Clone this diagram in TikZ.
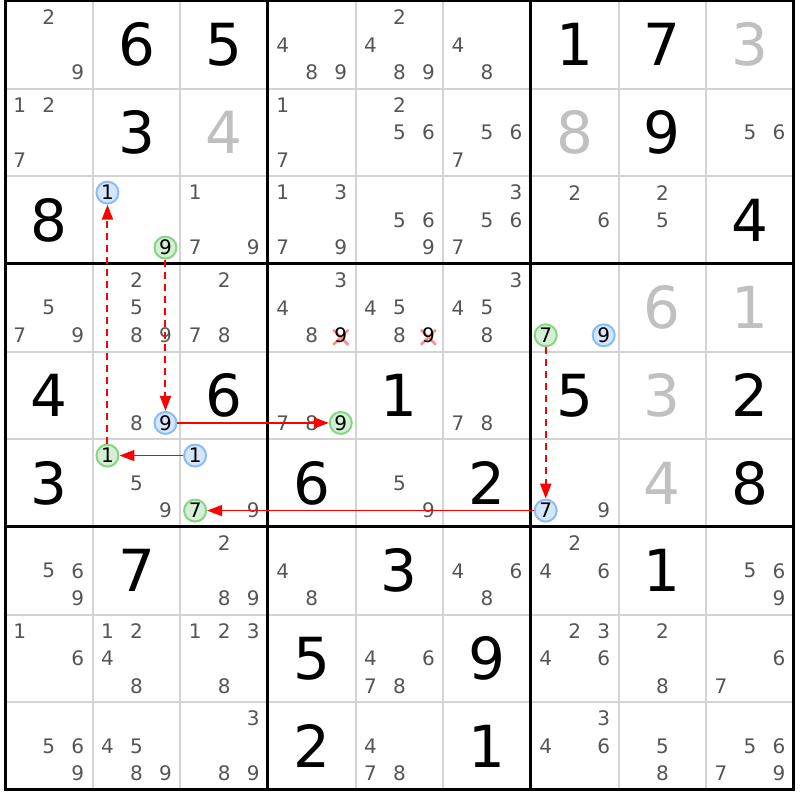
\documentclass[tikz,border=0pt]{standalone}
\usepackage{fontspec}
\setmainfont{DejaVu Sans}
\usetikzlibrary{arrows.meta}
\definecolor{pmgray}{RGB}{85,85,85}
\definecolor{givgray}{RGB}{192,192,192}
\definecolor{thingrid}{RGB}{211,211,211}
\definecolor{bluefill}{RGB}{212,230,252}
\definecolor{bluedraw}{RGB}{140,188,245}
\definecolor{greenfill}{RGB}{212,240,212}
\definecolor{greendraw}{RGB}{135,212,135}
\definecolor{crossred}{RGB}{255,140,140}
\definecolor{linkred}{RGB}{255,0,0}
\newcommand\pmpos[3]{%
  \pgfmathsetmacro\px{5+(#2-0.5)*87.65+(mod(#3-1,3)-1)*29}%
  \pgfmathsetmacro\py{1+(#1-0.5)*87.65+(floor((#3-1)/3)-1)*27.5}%
}
\begin{document}
\begin{tikzpicture}[x=1pt,y=-1pt,
  big/.style={inner sep=0pt, font=\fontsize{58}{60}\selectfont},
  given/.style={big, text=black},
  solved/.style={big, text=givgray},
  pm/.style={inner sep=0pt, font=\fontsize{20}{22}\selectfont, text=pmgray},
  bluec/.style={circle, draw=bluedraw, fill=bluefill, line width=2pt, minimum size=22pt, inner sep=0pt, font=\fontsize{20}{22}\selectfont, text=black},
  greenc/.style={bluec, draw=greendraw, fill=greenfill},
  crossmark/.style={draw=crossred, line width=2.5pt},
  thinline/.style={draw=thingrid, line width=2pt},
  thickline/.style={draw=black, line width=3pt},
  dashline/.style={draw=linkred, line width=2pt, dash pattern=on 7pt off 5pt, -{Triangle[length=15pt,width=11pt,fill=linkred]}},
  solidline/.style={draw=linkred, line width=1.6pt, -{Triangle[length=15pt,width=11pt,fill=linkred]}},
]
\fill[white] (0,0) rectangle (800,800);
\useasboundingbox (0,0) rectangle (800,800);
% grid
\foreach \i in {1,2,4,5,7,8} {
  \draw[thinline] ({5+\i*87.65},1) -- ({5+\i*87.65},789.85);
  \draw[thinline] (5,{1+\i*87.65}) -- (793.85,{1+\i*87.65});
}
\foreach \i in {3,6} {
  \draw[thickline] ({5+\i*87.65},1) -- ({5+\i*87.65},789.85);
  \draw[thickline] (5,{1+\i*87.65}) -- (793.85,{1+\i*87.65});
}
\draw[thickline] (5,1) rectangle (793.85,789.85);
% given / solved digits
\foreach \r/\c/\d/\st in {1/2/6/given, 1/3/5/given, 1/7/1/given, 1/8/7/given, 1/9/3/solved,
  2/2/3/given, 2/3/4/solved, 2/7/8/solved, 2/8/9/given,
  3/1/8/given, 3/9/4/given,
  4/8/6/solved, 4/9/1/solved,
  5/1/4/given, 5/3/6/given, 5/5/1/given, 5/7/5/given, 5/8/3/solved, 5/9/2/given,
  6/1/3/given, 6/4/6/given, 6/6/2/given, 6/8/4/solved, 6/9/8/given,
  7/2/7/given, 7/5/3/given, 7/8/1/given,
  8/4/5/given, 8/6/9/given,
  9/4/2/given, 9/6/1/given} {
  \node[\st] (g\r\c) at ({5+(\c-0.5)*87.65},{1+(\r-0.5)*87.65}) {\d};
}
% pencil marks
\foreach \r/\c/\ds in {1/1/{2,9}, 1/4/{4,8,9}, 1/5/{2,4,8,9}, 1/6/{4,8},
  2/1/{1,2,7}, 2/4/{1,7}, 2/5/{2,5,6}, 2/6/{5,6,7}, 2/9/{5,6},
  3/3/{1,7,9}, 3/4/{1,3,7,9}, 3/5/{5,6,9}, 3/6/{3,5,6,7}, 3/7/{2,6}, 3/8/{2,5},
  4/1/{5,7,9}, 4/2/{2,5,8,9}, 4/3/{2,7,8}, 4/4/{3,4,8}, 4/5/{4,5,8}, 4/6/{3,4,5,8},
  5/2/{8}, 5/4/{7,8}, 5/6/{7,8},
  6/2/{5,9}, 6/3/{9}, 6/5/{5,9}, 6/7/{9},
  7/1/{5,6,9}, 7/3/{2,8,9}, 7/4/{4,8}, 7/6/{4,6,8}, 7/7/{2,4,6}, 7/9/{5,6,9},
  8/1/{1,6}, 8/2/{1,2,4,8}, 8/3/{1,2,3,8}, 8/5/{4,6,7,8}, 8/7/{2,3,4,6}, 8/8/{2,8}, 8/9/{6,7},
  9/1/{5,6,9}, 9/2/{4,5,8,9}, 9/3/{3,8,9}, 9/5/{4,7,8}, 9/7/{3,4,6}, 9/8/{5,8}, 9/9/{5,6,7,9}} {
  \foreach \d in \ds {
    \pmpos{\r}{\c}{\d}
    \node[pm] (p\r\c\d) at (\px,\py) {\d};
  }
}
% crossed-out candidates
\foreach \r/\c/\d in {4/4/9, 4/5/9} {
  \pmpos{\r}{\c}{\d}
  \draw[crossmark] ({\px-7.5},{\py-5.5}) -- ({\px+7.5},{\py+9.5});
  \draw[crossmark] ({\px-7.5},{\py+9.5}) -- ({\px+7.5},{\py-5.5});
  \node[pm, text=black] (p\r\c\d) at (\px,\py) {\d};
}
% circled candidates
\foreach \r/\c/\d/\st in {3/2/1/bluec, 4/7/9/bluec, 5/2/9/bluec, 6/3/1/bluec, 6/7/7/bluec,
  3/2/9/greenc, 4/7/7/greenc, 5/4/9/greenc, 6/2/1/greenc, 6/3/7/greenc} {
  \pmpos{\r}{\c}{\d}
  \node[\st] (p\r\c\d) at (\px,\py) {\d};
}
% chain links
\draw[dashline] (p621) -- (p321);
\draw[dashline] (p329) -- (p529);
\draw[solidline] (p529) -- (p549);
\draw[solidline] (p631) -- (p621);
\draw[dashline] (p477) -- (p677);
\draw[solidline] (p677) -- (p637);
\end{tikzpicture}
\end{document}
